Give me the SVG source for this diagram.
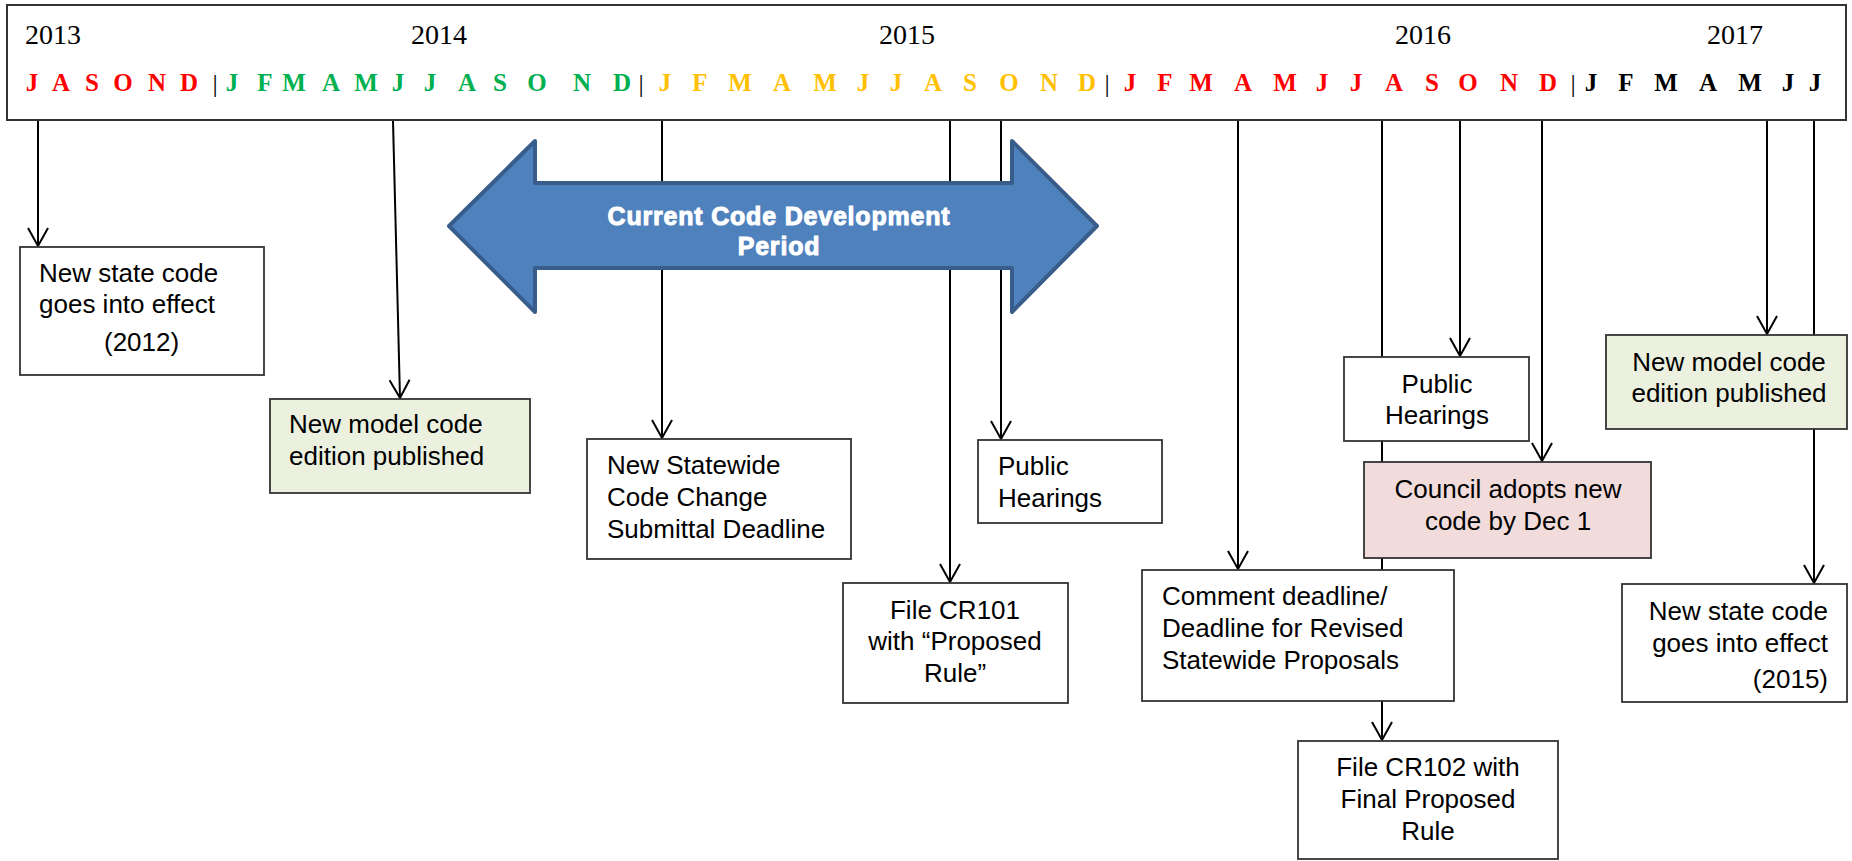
<svg xmlns="http://www.w3.org/2000/svg" width="1852" height="861" viewBox="0 0 1852 861">
<style>
.yr{font-family:"Liberation Serif","Times New Roman",serif;font-size:28px;fill:#000}
.mo{font-family:"Liberation Serif","Times New Roman",serif;font-size:25px;font-weight:bold;text-anchor:middle}
.bar{font-family:"Liberation Serif","Times New Roman",serif;font-size:26px;fill:#000;text-anchor:middle}
.r{fill:#FF0000}.g{fill:#00B050}.y{fill:#FFC000}.k{fill:#000}
.box{fill:#fff;stroke:#333;stroke-width:1.8}
.grn{fill:#EBF1DE}.pnk{fill:#F2DCDB}
.t{font-family:"Liberation Sans",Arial,sans-serif;font-size:26px;fill:#000}
.c{text-anchor:middle}.e{text-anchor:end}
.ln{stroke:#000;stroke-width:2;fill:none}
.big{font-family:"Liberation Sans",Arial,sans-serif;font-size:25px;font-weight:bold;fill:#fff;stroke:#fff;stroke-width:1;letter-spacing:0.8px;text-anchor:middle}
</style>
<defs>
<marker id="ah" markerUnits="userSpaceOnUse" viewBox="-20 -12 22 24" markerWidth="22" markerHeight="24" refX="0" refY="0" orient="auto" overflow="visible">
<path d="M-18,-10 L0,0 L-18,10" fill="none" stroke="#000" stroke-width="2"/>
</marker>
</defs>

<g id="header">
<rect x="7" y="5" width="1839" height="115" fill="#fff" stroke="#333" stroke-width="2"/>
<text class="yr" x="25" y="44">2013</text>
<text class="yr" x="411" y="44">2014</text>
<text class="yr" x="879" y="44">2015</text>
<text class="yr" x="1395" y="44">2016</text>
<text class="yr" x="1707" y="44">2017</text>
<g class="r">
<text class="mo r" x="32" y="91">J</text><text class="mo r" x="61" y="91">A</text><text class="mo r" x="92" y="91">S</text><text class="mo r" x="123" y="91">O</text><text class="mo r" x="157" y="91">N</text><text class="mo r" x="189" y="91">D</text>
</g>
<text class="bar" x="215" y="92">|</text>
<text class="mo g" x="232" y="91">J</text><text class="mo g" x="265" y="91">F</text><text class="mo g" x="294" y="91">M</text><text class="mo g" x="331" y="91">A</text><text class="mo g" x="366" y="91">M</text><text class="mo g" x="398" y="91">J</text><text class="mo g" x="430" y="91">J</text><text class="mo g" x="467" y="91">A</text><text class="mo g" x="500" y="91">S</text><text class="mo g" x="537" y="91">O</text><text class="mo g" x="582" y="91">N</text><text class="mo g" x="622" y="91">D</text>
<text class="bar" x="641" y="92">|</text>
<text class="mo y" x="665" y="91">J</text><text class="mo y" x="700" y="91">F</text><text class="mo y" x="740" y="91">M</text><text class="mo y" x="782" y="91">A</text><text class="mo y" x="825" y="91">M</text><text class="mo y" x="863" y="91">J</text><text class="mo y" x="896" y="91">J</text><text class="mo y" x="933" y="91">A</text><text class="mo y" x="970" y="91">S</text><text class="mo y" x="1009" y="91">O</text><text class="mo y" x="1049" y="91">N</text><text class="mo y" x="1087" y="91">D</text>
<text class="bar" x="1107" y="92">|</text>
<text class="mo r" x="1130" y="91">J</text><text class="mo r" x="1165" y="91">F</text><text class="mo r" x="1201" y="91">M</text><text class="mo r" x="1243" y="91">A</text><text class="mo r" x="1285" y="91">M</text><text class="mo r" x="1322" y="91">J</text><text class="mo r" x="1356" y="91">J</text><text class="mo r" x="1394" y="91">A</text><text class="mo r" x="1432" y="91">S</text><text class="mo r" x="1468" y="91">O</text><text class="mo r" x="1509" y="91">N</text><text class="mo r" x="1548" y="91">D</text>
<text class="bar" x="1573" y="92">|</text>
<text class="mo k" x="1591" y="91">J</text><text class="mo k" x="1626" y="91">F</text><text class="mo k" x="1666" y="91">M</text><text class="mo k" x="1708" y="91">A</text><text class="mo k" x="1750" y="91">M</text><text class="mo k" x="1788" y="91">J</text><text class="mo k" x="1815" y="91">J</text>
</g>

<g id="connectors">
<line class="ln" x1="38" y1="121" x2="38" y2="246" marker-end="url(#ah)"/>
<line class="ln" x1="393" y1="121" x2="400" y2="398" marker-end="url(#ah)"/>
<line class="ln" x1="662" y1="121" x2="662" y2="438" marker-end="url(#ah)"/>
<line class="ln" x1="950" y1="121" x2="950" y2="582" marker-end="url(#ah)"/>
<line class="ln" x1="1001" y1="121" x2="1001" y2="439" marker-end="url(#ah)"/>
<line class="ln" x1="1238" y1="121" x2="1238" y2="569" marker-end="url(#ah)"/>
<line class="ln" x1="1382" y1="121" x2="1382" y2="740" marker-end="url(#ah)"/>
<line class="ln" x1="1460" y1="121" x2="1460" y2="356" marker-end="url(#ah)"/>
<line class="ln" x1="1542" y1="121" x2="1542" y2="461" marker-end="url(#ah)"/>
<line class="ln" x1="1767" y1="121" x2="1767" y2="334" marker-end="url(#ah)"/>
<line class="ln" x1="1814" y1="121" x2="1814" y2="583" marker-end="url(#ah)"/>
</g>

<g id="period-arrow">
<path d="M449,226 L535,141 L535,183 L1012,183 L1012,141 L1097,226 L1012,312 L1012,268 L535,268 L535,312 Z" fill="#4F81BD" stroke="#385D8A" stroke-width="4" stroke-linejoin="round"/>
<text class="big" x="779" y="225">Current Code Development</text>
<text class="big" x="779" y="255">Period</text>
</g>

<g id="n1">
<rect class="box" x="20" y="247" width="244" height="128"/>
<text class="t" x="39" y="282">New state code</text>
<text class="t" x="39" y="313">goes into effect</text>
<text class="t" x="104" y="351">(2012)</text>
</g>
<g id="n2">
<rect class="box grn" x="270" y="399" width="260" height="94"/>
<text class="t" x="289" y="433">New model code</text>
<text class="t" x="289" y="465">edition published</text>
</g>
<g id="n3">
<rect class="box" x="587" y="439" width="264" height="120"/>
<text class="t" x="607" y="474">New Statewide</text>
<text class="t" x="607" y="506">Code Change</text>
<text class="t" x="607" y="538">Submittal Deadline</text>
</g>
<g id="n4">
<rect class="box" x="978" y="440" width="184" height="83"/>
<text class="t" x="998" y="475">Public</text>
<text class="t" x="998" y="507">Hearings</text>
</g>
<g id="n5">
<rect class="box" x="843" y="583" width="225" height="120"/>
<text class="t c" x="955" y="619">File CR101</text>
<text class="t c" x="955" y="650">with “Proposed</text>
<text class="t c" x="955" y="682">Rule”</text>
</g>
<g id="n8">
<rect class="box" x="1344" y="357" width="185" height="84"/>
<text class="t c" x="1437" y="393">Public</text>
<text class="t c" x="1437" y="424">Hearings</text>
</g>
<g id="n9">
<rect class="box pnk" x="1364" y="462" width="287" height="96"/>
<text class="t c" x="1508" y="498">Council adopts new</text>
<text class="t c" x="1508" y="530">code by Dec 1</text>
</g>
<g id="n6">
<rect class="box" x="1142" y="570" width="312" height="131"/>
<text class="t" x="1162" y="605">Comment deadline/</text>
<text class="t" x="1162" y="637">Deadline for Revised</text>
<text class="t" x="1162" y="669">Statewide Proposals</text>
</g>
<g id="n7">
<rect class="box" x="1298" y="741" width="260" height="118"/>
<text class="t c" x="1428" y="776">File CR102 with</text>
<text class="t c" x="1428" y="808">Final Proposed</text>
<text class="t c" x="1428" y="840">Rule</text>
</g>
<g id="n10">
<rect class="box grn" x="1606" y="335" width="241" height="94"/>
<text class="t c" x="1729" y="371">New model code</text>
<text class="t c" x="1729" y="402">edition published</text>
</g>
<g id="n11">
<rect class="box" x="1622" y="584" width="225" height="118"/>
<text class="t e" x="1828" y="620">New state code</text>
<text class="t e" x="1828" y="652">goes into effect</text>
<text class="t e" x="1828" y="688">(2015)</text>
</g>
</svg>
